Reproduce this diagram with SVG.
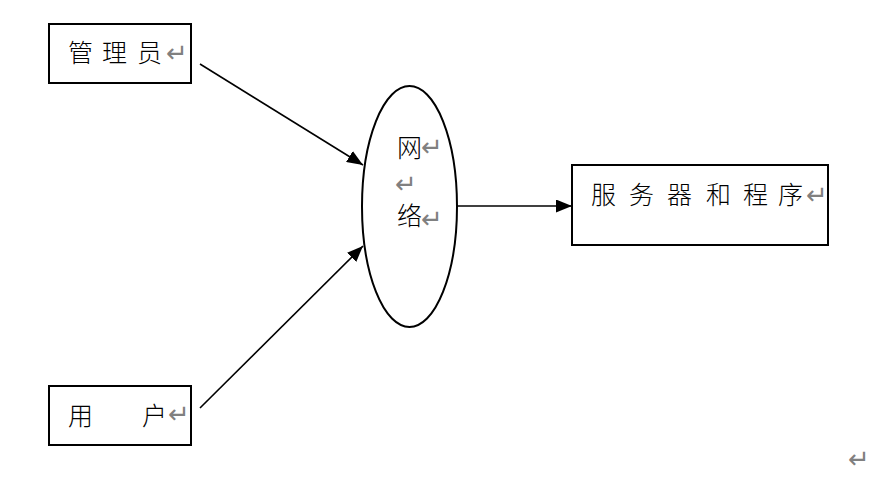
<svg xmlns="http://www.w3.org/2000/svg" width="875" height="478" viewBox="0 0 875 478">
<style>
.box{fill:#fff;stroke:#000;stroke-width:2}
.t{font-family:"Noto Sans CJK SC","Liberation Serif",sans-serif;font-size:25px;font-weight:300;fill:#000}
.r{font-family:"DejaVu Sans",sans-serif;font-size:26px;fill:#808080}
.c{stroke:#000;stroke-width:1.6;fill:none}
</style>
<defs>
<marker id="ah" viewBox="0 0 10 10" refX="10" refY="5" markerWidth="16" markerHeight="13" markerUnits="userSpaceOnUse" orient="auto" preserveAspectRatio="none">
<path d="M0,0 L10,5 L0,10 z" fill="#000"/>
</marker>
</defs>
<rect width="875" height="478" fill="#fff"/>
<g id="connectors">
<line class="c" x1="200" y1="64" x2="363" y2="165" marker-end="url(#ah)"/>
<line class="c" x1="200" y1="408" x2="363" y2="246" marker-end="url(#ah)"/>
<line class="c" x1="457" y1="206" x2="572" y2="206" marker-end="url(#ah)"/>
</g>
<g id="admin">
<rect class="box" x="49" y="24" width="142" height="59"/>
<text class="t" x="68" y="62">管</text>
<text class="t" x="102" y="62">理</text>
<text class="t" x="137" y="62">员</text>
<text class="r" x="166" y="62">↵</text>
</g>
<g id="user">
<rect class="box" x="49" y="386" width="142" height="59"/>
<text class="t" x="68" y="425">用</text>
<text class="t" x="142" y="425">户</text>
<text class="r" x="168" y="423">↵</text>
</g>
<g id="network">
<ellipse cx="409.5" cy="206.5" rx="47.5" ry="120.5" fill="#fff" stroke="#000" stroke-width="2"/>
<text class="t" x="397" y="157">网</text>
<text class="r" x="421" y="156">↵</text>
<text class="r" x="395" y="193">↵</text>
<text class="t" x="397" y="225">络</text>
<text class="r" x="421" y="228">↵</text>
</g>
<g id="server">
<rect class="box" x="572" y="165" width="256" height="80"/>
<text class="t" x="591" y="204">服</text>
<text class="t" x="629" y="204">务</text>
<text class="t" x="667" y="204">器</text>
<text class="t" x="706" y="204">和</text>
<text class="t" x="743" y="204">程</text>
<text class="t" x="778" y="204">序</text>
<text class="r" x="806" y="204">↵</text>
</g>
<text class="r" x="848" y="468">↵</text>
</svg>
